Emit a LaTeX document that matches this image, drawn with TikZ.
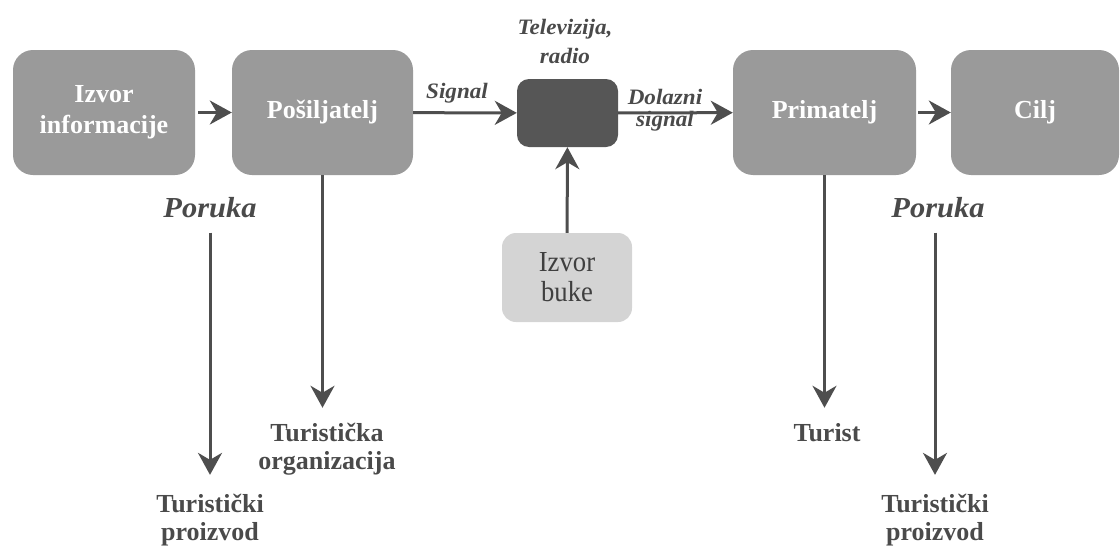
\documentclass[tikz,border=0pt]{standalone}
\usepackage{fontspec}
\setmainfont{Liberation Serif}
\newfontfamily\wideserif{Liberation Serif}[FakeStretch=1.05]
\newfontfamily\narrowserif{Liberation Serif}[FakeStretch=0.92]
\usetikzlibrary{arrows.meta}
\definecolor{boxgray}{HTML}{9A9A9A}
\definecolor{darkbox}{HTML}{565656}
\definecolor{noisegray}{HTML}{D4D4D4}
\definecolor{ink}{HTML}{4A4A4A}
\definecolor{arrowgray}{HTML}{4E4E4E}
\begin{document}
\begin{tikzpicture}[x=1pt,y=-1pt,
  block/.style={fill=boxgray, rounded corners=20pt, minimum height=125pt,
    text=white, font=\fontsize{26}{31}\selectfont\bfseries, align=center, inner sep=0pt},
  channel/.style={fill=darkbox, rounded corners=12pt, minimum width=101pt, minimum height=68pt, inner sep=0pt},
  noise/.style={fill=noisegray, rounded corners=14pt, minimum width=130pt, minimum height=89pt,
    text=ink!85!black, font=\narrowserif\fontsize{29}{30}\selectfont, align=center, inner sep=0pt},
  medium/.style={text=ink, font=\wideserif\fontsize{22}{29}\selectfont\bfseries\itshape, align=center, inner sep=0pt},
  message/.style={text=ink, font=\wideserif\fontsize{29}{30}\selectfont\bfseries\itshape, inner sep=0pt},
  role/.style={text=ink, font=\fontsize{26}{28}\selectfont\bfseries, align=center, inner sep=0pt},
  arr/.style={draw=arrowgray, line width=3pt, -{Stealth[length=22pt, width=24pt, inset=7pt]}}
]
\useasboundingbox (0,0) rectangle (1120,549);

% main chain of the communication model
\node[block, minimum width=182pt] (src) at (104,112.5) {Izvor\\informacije};
\node[block, minimum width=181pt] (snd) at (322.5,112.5) {Pošiljatelj};
\node[channel] (tv) at (567.5,113) {};
\node[block, minimum width=183pt] (rcv) at (824.5,112.5) {Primatelj};
\node[block, minimum width=168pt] (dst) at (1035,112.5) {Cilj};
\node[noise] (nse) at (567,277.5) {Izvor\\buke};

% labels of the channel
\node[medium] (tvlbl) at (565,41) {Televizija,\\radio};
\node[medium, anchor=base] (sig) at (457,98) {Signal};
\node[medium, font=\wideserif\fontsize{22}{22}\selectfont\bfseries\itshape] (insig) at (665,110) {Dolazni\\signal};

% messages and their meanings
\node[message, anchor=base] (msg1) at (210,217) {Poruka};
\node[message, anchor=base] (msg2) at (938,217) {Poruka};
\node[role] (prod1) at (210,520) {Turistički\\proizvod};
\node[role] (org) at (327,449) {Turistička\\organizacija};
\node[role, anchor=base] (tur) at (827,441) {Turist};
\node[role] (prod2) at (935,520) {Turistički\\proizvod};

% connectors
\draw[arr, shorten <=3pt] (src) -- (snd);
\draw[arr] (snd) -- (tv);
\draw[arr] (tv) -- (rcv);
\draw[arr, shorten <=2pt] (rcv) -- (dst);
\draw[arr] (nse) -- (tv);
\draw[arr, shorten <=15pt, shorten >=19pt] (msg1.south -| prod1.north) -- (prod1.north);
\draw[arr, shorten >=15pt] (snd.south) -- (org.north -| snd.south);
\draw[arr, shorten >=15pt] (rcv.south) -- (tur.north -| rcv.south);
\draw[arr, shorten <=15pt, shorten >=19pt] (msg2.south -| prod2.north) -- (prod2.north);
\end{tikzpicture}
\end{document}
